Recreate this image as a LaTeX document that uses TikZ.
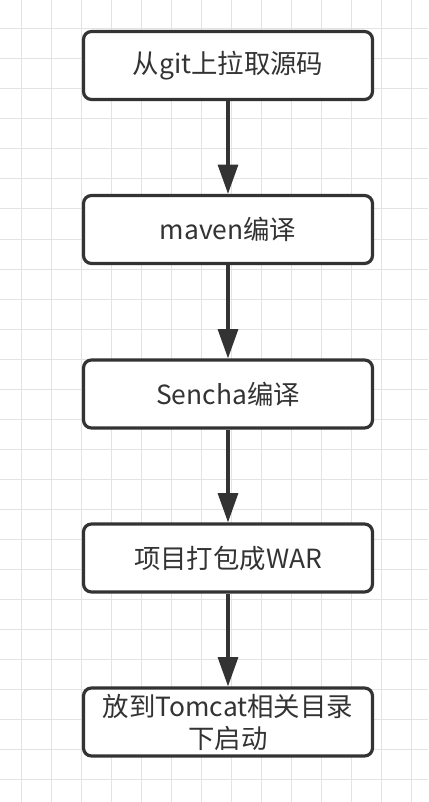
\documentclass[tikz,border=0pt]{standalone}
\usepackage{fontspec}
\setmainfont{Noto Sans CJK SC}
\usetikzlibrary{arrows.meta}
\definecolor{boxline}{HTML}{333333}
\definecolor{gridline}{HTML}{E3E3E3}
\begin{document}
\begin{tikzpicture}[x=0.75pt,y=-0.75pt,
 stepbox/.style={draw=boxline,line width=2.4pt,rounded corners=6pt,fill=white,minimum width=216.75pt,minimum height=51pt,align=center,font=\fontsize{19.8}{24}\selectfont,text=boxline,inner sep=1pt},
 flow/.style={draw=boxline,line width=2.4pt,-{Triangle[length=22pt,width=15pt]}}]
 \useasboundingbox (0,0) rectangle (428,802);
 \fill[white](0,0) rectangle (428,802);
 \foreach \gx in {0,...,13} \draw[gridline,line width=0.75pt](21.5+30*\gx,0)--(21.5+30*\gx,802);
 \foreach \gy in {0,...,25} \draw[gridline,line width=0.75pt](0,29+30*\gy)--(428,29+30*\gy);
 \node[stepbox](git) at (228,65.5){从git上拉取源码};
 \node[stepbox](maven) at (228,229.5){maven编译};
 \node[stepbox](sencha) at (228,394){Sencha编译};
 \node[stepbox](war) at (228,558){项目打包成WAR};
 \node[stepbox](tomcat) at (228,722){放到Tomcat相关目录\\下启动};
 \draw[flow](git)--(maven);
 \draw[flow](maven)--(sencha);
 \draw[flow](sencha)--(war);
 \draw[flow](war)--(tomcat);
\end{tikzpicture}
\end{document}
